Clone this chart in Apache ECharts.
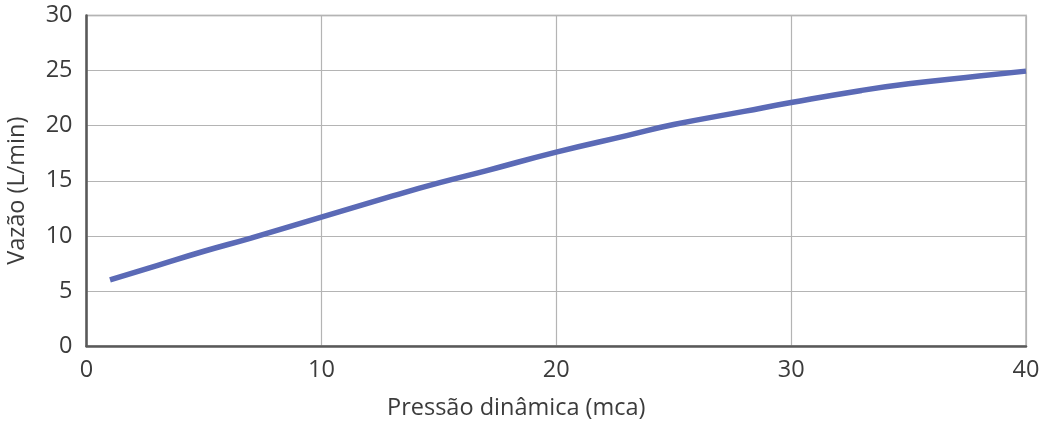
<!DOCTYPE html>
<html><head><meta charset="utf-8">
<script src="https://cdn.jsdelivr.net/npm/echarts@6/dist/echarts.min.js"></script>
<style>html,body{margin:0;padding:0;background:#fff}#c{width:1046px;height:422px}</style>
</head><body><div id="c"></div>
<script>
const pressao = [1, 3, 5, 7, 10, 13, 15, 17, 20, 23, 25, 28, 30, 33, 35, 38, 40];
const vazao = [6.0, 7.3, 8.6, 9.8, 11.7, 13.6, 14.8, 15.9, 17.6, 19.1, 20.1, 21.3, 22.1, 23.2, 23.8, 24.5, 24.95];
const xTicks = [0, 10, 20, 30, 40];
const yTicks = [0, 5, 10, 15, 20, 25, 30];
const xTitle = 'Pressão dinâmica (mca)';
const yTitle = 'Vazão (L/min)';

const font = '"Open Sans", "Noto Sans", sans-serif';
const txt = '#3b3b3b';
const chart = echarts.init(document.getElementById('c'));
chart.setOption({
  animation: false,
  grid: {left: 86.5, right: 20, top: 15.5, bottom: 76, show: true, borderColor: '#c8c8c8', borderWidth: 2,
         containLabel: false, outerBoundsMode: 'none'},
  xAxis: {
    type: 'value', min: xTicks[0], max: xTicks[xTicks.length-1], interval: 10,
    name: xTitle, nameLocation: 'middle', nameGap: 50,
    nameTextStyle: {fontFamily: font, fontSize: 23.5, color: txt, padding: [0, 80, 0, 0]},
    axisLine: {show: true, lineStyle: {color: '#595959', width: 2.5}},
    axisTick: {show: false},
    axisLabel: {fontFamily: font, fontSize: 23.5, color: txt, margin: 12},
    splitLine: {show: true, lineStyle: {color: '#b4b4b4', width: 1.2}}
  },
  yAxis: {
    type: 'value', min: yTicks[0], max: yTicks[yTicks.length-1], interval: 5,
    name: yTitle, nameLocation: 'middle', nameGap: 57, nameRotate: 90,
    nameTextStyle: {fontFamily: font, fontSize: 23.5, color: txt, padding: [0, 20, 0, 0]},
    axisLine: {show: true, lineStyle: {color: '#595959', width: 2.5}},
    axisTick: {show: false},
    axisLabel: {fontFamily: font, fontSize: 23.5, color: txt, margin: 14},
    splitLine: {show: true, lineStyle: {color: '#b4b4b4', width: 1.2}}
  },
  series: [{
    type: 'line', smooth: true, showSymbol: false,
    data: pressao.map((p, i) => [p, vazao[i]]),
    lineStyle: {color: '#5b6ab6', width: 5.5, cap: 'butt'}
  }]
});
</script></body></html>
